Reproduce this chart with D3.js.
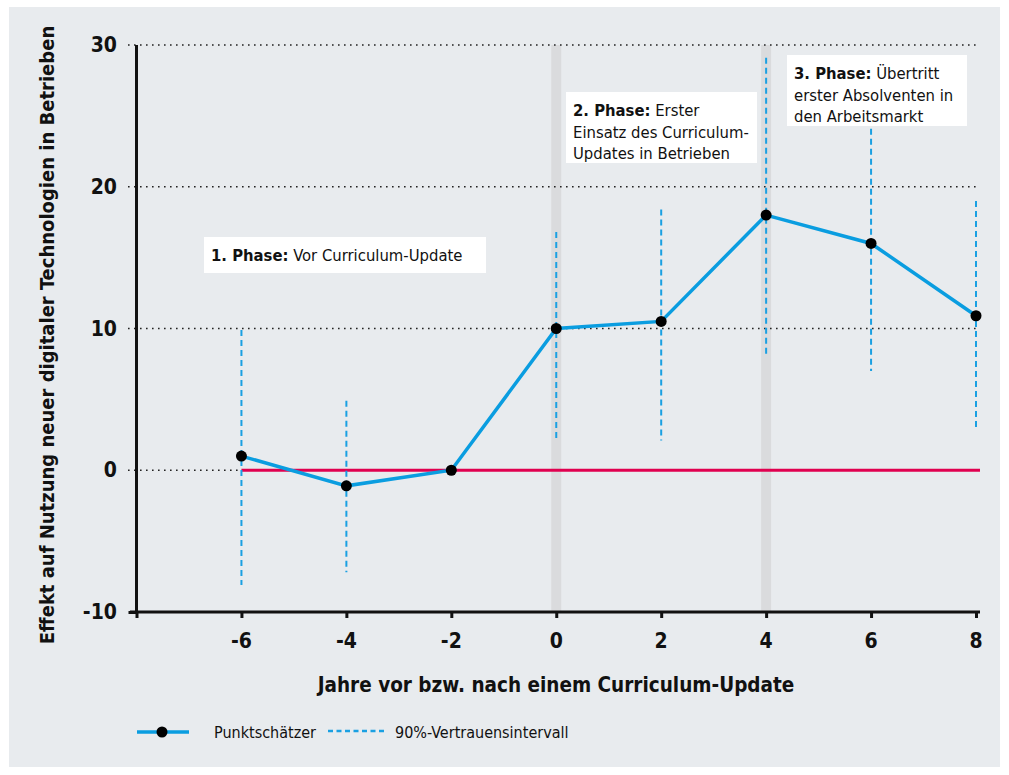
<!DOCTYPE html>
<html>
<head>
<meta charset="utf-8">
<script src="https://cdn.jsdelivr.net/npm/d3@7"></script>
<style>
  body { margin:0; background:#fff; }
  svg { display:block; }
  text { font-family:"Liberation Sans Narrow","DejaVu Sans Condensed","Roboto",sans-serif; }
</style>
</head>
<body>
<svg id="chart" width="1009" height="775"></svg>
<script>
// data
const years = [-6, -4, -2, 0, 2, 4, 6, 8];
const estimate = [1, -1.1, 0, 10, 10.5, 18, 16, 10.9];
const ciLow = [-8.1, -7.2, null, 2.0, 2.1, 8.0, 7.0, 2.9];
const ciHigh = [9.9, 4.9, null, 16.8, 18.4, 29.1, 24.1, 19.0];
const yTicks = [-10, 0, 10, 20, 30];
const xTicks = [-6, -4, -2, 0, 2, 4, 6, 8];
const gridTicks = [0, 10, 20, 30];
const phaseYears = [0, 4];

const blue = "#0a9de0";
const red = "#e0004f";

const svg = d3.select("#chart");
svg.append("rect").attr("x",9).attr("y",7).attr("width",991).attr("height",760).attr("fill","#e8ebee");

const x = d3.scaleLinear().domain([-8, 8]).range([136.5, 976]);
const y = d3.scaleLinear().domain([-10, 30]).range([612, 45]);

// gray phase bands
svg.selectAll(".band").data(phaseYears).enter().append("rect")
  .attr("x", d => x(d) - 5).attr("y", y(30)).attr("width", 10)
  .attr("height", y(-10) - y(30)).attr("fill", "#dadbdd");

// dotted grid
svg.selectAll(".grid").data(gridTicks).enter().append("line")
  .attr("x1", 128).attr("x2", d => d === 0 ? x(-6) : 980)
  .attr("y1", d => y(d)).attr("y2", d => y(d))
  .attr("stroke", "#222").attr("stroke-width", 1.6)
  .attr("stroke-dasharray", "1.6,4.4");

// zero line
svg.append("line").attr("x1", x(-6)).attr("x2", 980)
  .attr("y1", y(0)).attr("y2", y(0))
  .attr("stroke", red).attr("stroke-width", 3);

// axes
const yAxis = svg.append("g").attr("transform", "translate(136.5,0)")
  .call(d3.axisLeft(y).tickValues([-10]).tickSize(8).tickFormat(""));
yAxis.select(".domain").attr("d", "M0," + y(30) + "V" + y(-10));
const xAxis = svg.append("g").attr("transform", "translate(0," + y(-10) + ")")
  .call(d3.axisBottom(x).tickValues([-8].concat(xTicks)).tickSize(6).tickFormat(""));
xAxis.select(".domain").attr("d", "M130,0H980");
svg.selectAll(".domain").attr("stroke", "#111").attr("stroke-width", 3);
svg.selectAll(".tick line").attr("stroke", "#111").attr("stroke-width", 3);

// tick labels
svg.selectAll(".ylab").data(yTicks).enter().append("text")
  .attr("x", 117).attr("y", d => y(d) + 7).attr("text-anchor", "end")
  .attr("font-size", 21).attr("font-weight", "bold").attr("fill", "#111")
  .text(d => d);
svg.selectAll(".xlab").data(xTicks).enter().append("text")
  .attr("x", d => x(d)).attr("y", 648).attr("text-anchor", "middle")
  .attr("font-size", 21).attr("font-weight", "bold").attr("fill", "#111")
  .text(d => d);

// axis titles
svg.append("text").attr("x", 556).attr("y", 692).attr("text-anchor", "middle")
  .attr("font-size", 20.5).attr("font-weight", "bold").attr("fill", "#111")
  .text("Jahre vor bzw. nach einem Curriculum-Update");
svg.append("text").attr("transform", "translate(54,335) rotate(-90)")
  .attr("text-anchor", "middle").attr("font-size", 20).attr("font-weight", "bold").attr("fill", "#111")
  .text("Effekt auf Nutzung neuer digitaler Technologien in Betrieben");

// confidence intervals
const ci = years.map((yr, i) => ({yr: yr, lo: ciLow[i], hi: ciHigh[i]})).filter(d => d.lo !== null);
svg.selectAll(".ci").data(ci).enter().append("line")
  .attr("x1", d => x(d.yr)).attr("x2", d => x(d.yr))
  .attr("y1", d => y(d.hi)).attr("y2", d => y(d.lo))
  .attr("stroke", "#1aa0e2").attr("stroke-width", 2).attr("stroke-dasharray", "6,4");

// annotation boxes
const notes = [
  {bx: 204, by: 237, w: 282, h: 36, lines: [["1. Phase:", " Vor Curriculum-Update"]]},
  {bx: 566, by: 92, w: 191, h: 71, lines: [["2. Phase:", " Erster"], ["", "Einsatz des Curriculum-"], ["", "Updates in Betrieben"]]},
  {bx: 787, by: 55, w: 180, h: 71, lines: [["3. Phase:", " Übertritt"], ["", "erster Absolventen in"], ["", "den Arbeitsmarkt"]]}
];
notes.forEach(n => {
  svg.append("rect").attr("x", n.bx).attr("y", n.by).attr("width", n.w).attr("height", n.h).attr("fill", "#fff");
  n.lines.forEach((ln, i) => {
    const t = svg.append("text").attr("x", n.bx + 7).attr("y", n.by + 24 + i * 21.5)
      .attr("font-size", 16.5).attr("fill", "#111");
    if (ln[0]) t.append("tspan").attr("font-weight", "bold").text(ln[0]);
    t.append("tspan").text(ln[1]);
  });
});

// estimate line
const pts = years.map((yr, i) => ({yr: yr, v: estimate[i]}));
svg.append("path").datum(pts)
  .attr("d", d3.line().x(d => x(d.yr)).y(d => y(d.v)))
  .attr("fill", "none").attr("stroke", blue).attr("stroke-width", 3.5);
svg.selectAll(".dot").data(pts).enter().append("circle")
  .attr("cx", d => x(d.yr)).attr("cy", d => y(d.v)).attr("r", 5.5).attr("fill", "#000");

// legend
svg.append("line").attr("x1", 137).attr("x2", 189).attr("y1", 732).attr("y2", 732)
  .attr("stroke", blue).attr("stroke-width", 3.5);
svg.append("circle").attr("cx", 162).attr("cy", 732).attr("r", 5.5).attr("fill", "#000");
svg.append("text").attr("x", 214).attr("y", 738).attr("font-size", 16).attr("fill", "#111").text("Punktschätzer");
svg.append("line").attr("x1", 328).attr("x2", 386).attr("y1", 731).attr("y2", 731)
  .attr("stroke", "#1aa0e2").attr("stroke-width", 2.5).attr("stroke-dasharray", "5,3.5");
svg.append("text").attr("x", 395).attr("y", 738).attr("font-size", 16).attr("fill", "#111").text("90%-Vertrauensintervall");
</script>
</body>
</html>
